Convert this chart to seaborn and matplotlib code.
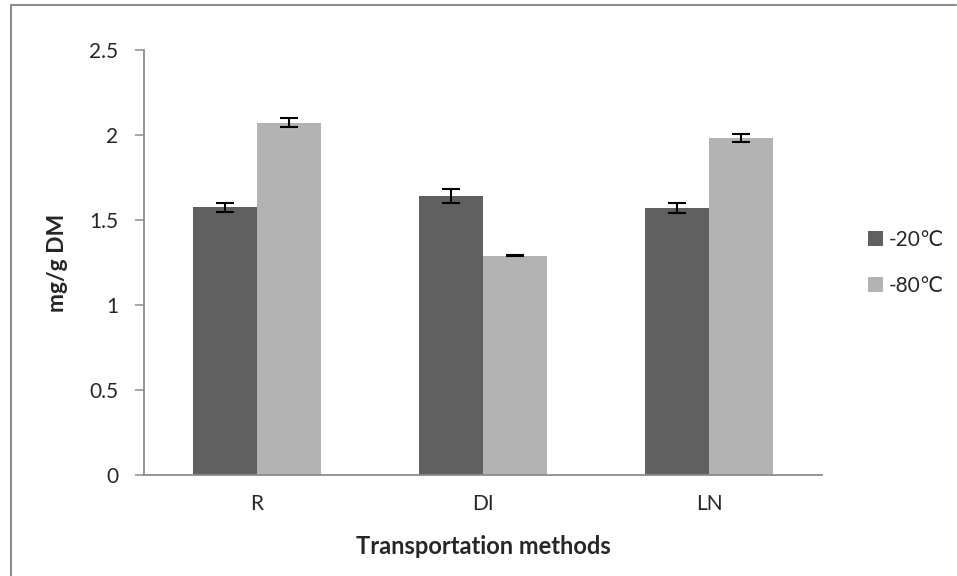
import numpy as np
import pandas as pd
import matplotlib
matplotlib.use("Agg")
import matplotlib.pyplot as plt
import seaborn as sns

# values
methods = ["R", "DI", "LN"]
temps = ["-20℃", "-80℃"]
vals_20 = [1.576, 1.641, 1.572]
vals_80 = [2.072, 1.290, 1.982]
err_20 = [0.026, 0.042, 0.030]
err_80 = [0.026, 0.004, 0.025]
colors = ["#606060", "#b3b3b3"]

df = pd.DataFrame({
    "method": methods * 2,
    "temp": [temps[0]] * 3 + [temps[1]] * 3,
    "value": vals_20 + vals_80,
    "err": err_20 + err_80,
})

sns.set_style("white")
plt.rcParams["font.family"] = ["Lato", "DejaVu Sans"]

fig = plt.figure(figsize=(9.57, 5.76), dpi=100)
ax = fig.add_axes([0.1505, 0.1753, 0.7085, 0.7377])

sns.barplot(data=df, x="method", y="value", hue="temp", order=methods,
            hue_order=temps, palette=colors, width=0.57, gap=0,
            errorbar=None, edgecolor="none", saturation=1, ax=ax)

# error bars on the bar centres
for cont, t in zip(ax.containers, temps):
    sub = df[df["temp"] == t].set_index("method").loc[methods]
    xs = [p.get_x() + p.get_width() / 2 for p in cont.patches]
    ax.errorbar(xs, sub["value"], yerr=sub["err"], fmt="none",
                ecolor="black", elinewidth=1.5, capsize=6.5, capthick=1.5)

ax.set_ylim(0, 2.5)
ax.set_xlim(-0.5, 2.5)
ax.set_yticks(np.arange(0, 2.51, 0.5))
ax.set_yticklabels(["0", "0.5", "1", "1.5", "2", "2.5"])

for s in ["top", "right"]:
    ax.spines[s].set_visible(False)
for s in ["left", "bottom"]:
    ax.spines[s].set_color("#8c8c8c")
    ax.spines[s].set_linewidth(1.3)

ax.tick_params(axis="y", length=6.5, width=1.1, color="#8c8c8c",
               pad=12, labelsize=15, left=True)
ax.tick_params(axis="x", length=0, pad=14, labelsize=15)

ax.set_ylabel("mg/g DM", fontsize=16.5, fontweight="bold", labelpad=15)
ax.set_xlabel("Transportation methods", fontsize=17, fontweight="bold",
              labelpad=15)

ax.legend(loc="center left", bbox_to_anchor=(1.04, 0.5), frameon=False,
          fontsize=15, handlelength=0.7, handleheight=0.7,
          handletextpad=0.3, labelspacing=1.25)

# partial outer frame like the original document border
fig.add_artist(plt.Line2D([11 / 957, 11 / 957], [0, 1 - 5 / 576],
                          color="#8c8c8c", lw=1.5, transform=fig.transFigure))
fig.add_artist(plt.Line2D([11 / 957, 956 / 957], [1 - 5 / 576, 1 - 5 / 576],
                          color="#8c8c8c", lw=1.5, transform=fig.transFigure))

fig.savefig("out.png", dpi=100)
